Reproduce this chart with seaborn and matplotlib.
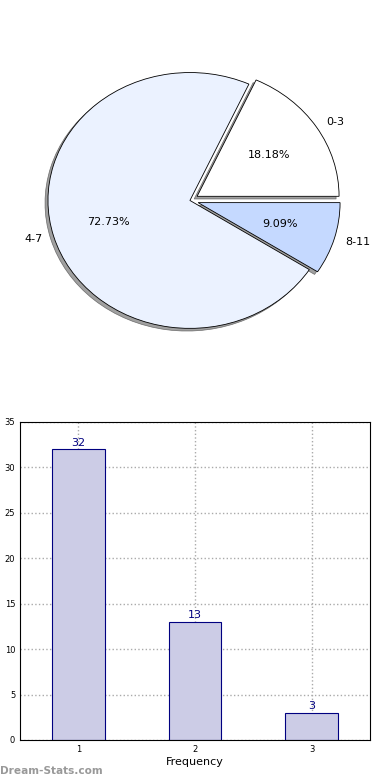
import matplotlib
matplotlib.use("Agg")
import matplotlib.pyplot as plt
import seaborn as sns
import pandas as pd

# Datos del gráfico de sectores
grupos = ["0-3", "4-7", "8-11"]
porcentajes = [18.18, 72.73, 9.09]
colores_pie = ["#FFFFFF", "#EBF2FF", "#C5D9FF"]
separacion = [0.06, 0.0, 0.06]

# Datos del gráfico de barras
frecuencia = ["1", "2", "3"]
ocurrencias = [32, 13, 3]

sns.set_style("white")
plt.rcParams["font.family"] = ["DejaVu Sans"]
plt.rcParams["text.color"] = "black"
plt.rcParams["axes.labelcolor"] = "black"
plt.rcParams["xtick.color"] = "black"
plt.rcParams["ytick.color"] = "black"

fig = plt.figure(figsize=(3.9, 7.8), dpi=100)

# Gráfico 1: sectores (sin aspecto igual, como el original)
ax1 = fig.add_axes([0.032, 0.538, 0.910, 0.410])
cunas, textos, autotextos = ax1.pie(
    porcentajes, labels=grupos, colors=colores_pie, explode=separacion,
    autopct="%.2f%%", startangle=0, labeldistance=1.08,
    shadow=dict(ox=-0.015, oy=-0.015, facecolor="#888888", edgecolor="#555555",
                linewidth=0.5, alpha=0.8),
    wedgeprops=dict(edgecolor="black", linewidth=0.6),
    textprops=dict(fontsize=8, color="black"),
)
ax1.set_aspect("auto")
ax1.set_xlim(-1.25, 1.25)
ax1.set_ylim(-1.25, 1.25)
ax1.axis("off")

# Gráfico 2: barras
ax2 = fig.add_axes([0.0513, 0.0513, 0.897, 0.4077])
df = pd.DataFrame({"Frequency": frecuencia, "Occurrences": ocurrencias})
sns.barplot(data=df, x="Frequency", y="Occurrences", color="#CCCCE6",
            edgecolor="#000080", linewidth=0.8, width=0.45, saturation=1,
            ax=ax2, zorder=2)
ax2.bar_label(ax2.containers[0], color="#000080", fontsize=8, padding=1)
ax2.set_xlim(-0.5, 2.5)
ax2.set_ylim(0, 35)
ax2.set_yticks(range(0, 36, 5))
ax2.grid(True, linestyle=":", color="#AAAAAA", linewidth=1, zorder=0)
ax2.set_axisbelow(True)
ax2.tick_params(labelsize=6, direction="in", length=3, color="black")
ax2.set_xlabel("Frequency", fontsize=8, labelpad=2)
ax2.set_ylabel("Occurrences", fontsize=8, labelpad=2)
for s in ax2.spines.values():
    s.set_color("black")
    s.set_linewidth(0.8)

fig.text(0.0, 0.0055, "Dream-Stats.com", fontsize=7.6, color="#999999",
         fontweight="bold", ha="left", va="bottom")

fig.savefig("out.png", dpi=100)
plt.close(fig)
